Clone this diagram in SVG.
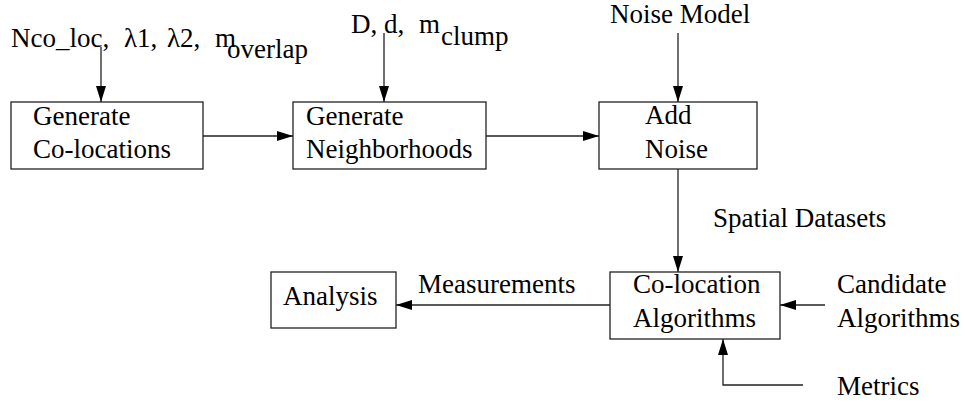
<svg xmlns="http://www.w3.org/2000/svg" width="965" height="402" viewBox="0 0 965 402">
<defs>
<style>
text{font-family:"Liberation Serif","Times New Roman",serif;font-size:27px;fill:#000}
.box{fill:#fff;stroke:#222;stroke-width:1.3}
.c{fill:none;stroke:#222;stroke-width:1.3}
</style>
<marker id="ah" viewBox="0 0 16 10" refX="16" refY="5" markerWidth="16" markerHeight="10" markerUnits="userSpaceOnUse" orient="auto">
<path d="M0,0 L16,5 L0,10 Z" fill="#000"/>
</marker>
</defs>
<rect width="965" height="402" fill="#fff"/>
<g id="connectors">
<line class="c" x1="101" y1="47" x2="101" y2="102" marker-end="url(#ah)"/>
<line class="c" x1="203" y1="136" x2="293" y2="136" marker-end="url(#ah)"/>
<line class="c" x1="384" y1="33" x2="384" y2="102" marker-end="url(#ah)"/>
<line class="c" x1="486" y1="136" x2="599" y2="136" marker-end="url(#ah)"/>
<line class="c" x1="678" y1="33" x2="678" y2="102" marker-end="url(#ah)"/>
<line class="c" x1="678" y1="169" x2="678" y2="272" marker-end="url(#ah)"/>
<line class="c" x1="610" y1="305" x2="396" y2="305" marker-end="url(#ah)"/>
<line class="c" x1="825" y1="305" x2="780" y2="305" marker-end="url(#ah)"/>
<polyline class="c" points="803,385 723,385 723,339" marker-end="url(#ah)"/>
</g>
<g id="inputs1">
<text y="47"><tspan x="11">Nco_loc,</tspan><tspan x="124">λ1,</tspan><tspan x="167">λ2,</tspan><tspan x="215">m</tspan></text>
<text x="227" y="58">overlap</text>
</g>
<g id="inputs2">
<text y="33"><tspan x="351">D,</tspan><tspan x="384">d,</tspan><tspan x="419">m</tspan></text>
<text x="441" y="45">clump</text>
</g>
<g id="noise-model"><text x="610" y="23">Noise Model</text></g>
<g id="gen-colocations">
<rect class="box" x="11" y="102" width="192" height="67"/>
<text x="33" y="125">Generate</text>
<text x="33" y="158">Co-locations</text>
</g>
<g id="gen-neighborhoods">
<rect class="box" x="293" y="102" width="193" height="67"/>
<text x="306" y="125">Generate</text>
<text x="306" y="158">Neighborhoods</text>
</g>
<g id="add-noise">
<rect class="box" x="599" y="102" width="158" height="67"/>
<text x="645" y="124">Add</text>
<text x="645" y="158">Noise</text>
</g>
<g id="spatial-datasets"><text x="713" y="227">Spatial Datasets</text></g>
<g id="colocation-algorithms">
<rect class="box" x="610" y="272" width="170" height="67"/>
<text x="633" y="293">Co-location</text>
<text x="633" y="327">Algorithms</text>
</g>
<g id="candidate"><text x="837" y="293">Candidate</text><text x="837" y="327">Algorithms</text></g>
<g id="metrics"><text x="837" y="395">Metrics</text></g>
<g id="analysis">
<rect class="box" x="271" y="272" width="125" height="56"/>
<text x="283" y="305">Analysis</text>
</g>
<g id="measurements"><text x="418" y="293">Measurements</text></g>
</svg>
